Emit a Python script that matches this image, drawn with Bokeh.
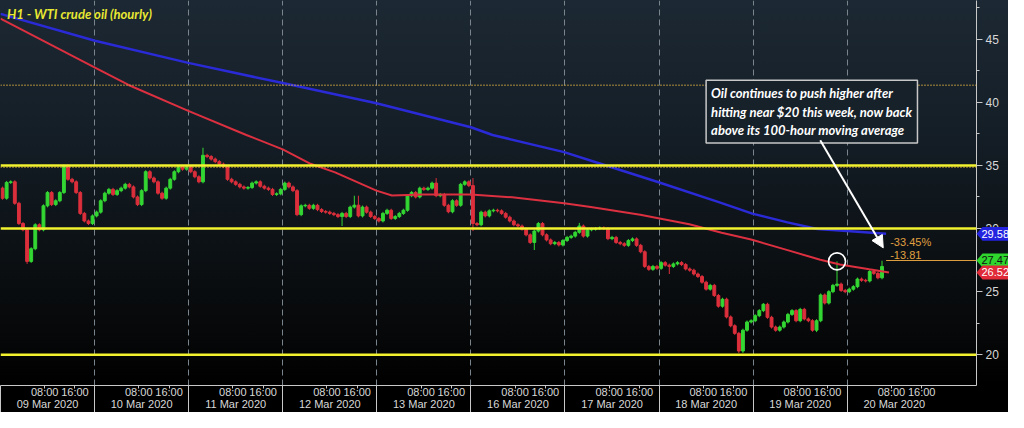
from bokeh.plotting import figure
from bokeh.models import (ColumnDataSource, Range1d, LinearAxis, FixedTicker, SingleIntervalTicker,
                          Span, Label, Arrow, NormalHead, InlineStyleSheet, CustomJSTickFormatter)
from bokeh.core.properties import value
from bokeh.embed import file_html
from bokeh.resources import INLINE

# ---------------- data ----------------
BARS_PER_DAY = 23
dates = ["09 Mar 2020", "10 Mar 2020", "11 Mar 2020", "12 Mar 2020", "13 Mar 2020",
         "16 Mar 2020", "17 Mar 2020", "18 Mar 2020", "19 Mar 2020", "20 Mar 2020"]
hour_labels = ["08:00", "16:00"]

first_open = 33.2
close_0309 = [32.4, 33.65, 33.7, 32.0, 30.4, 29.9, 27.4, 28.4, 30.3, 29.9, 31.8, 32.85, 31.9, 32.2,
              32.85, 34.95, 33.9, 33.7, 32.85, 31.2, 30.6, 30.4, 31.0]
close_0310 = [31.3, 32.2, 32.8, 33.1, 32.7, 33.0, 33.2, 33.5, 33.3, 32.5, 31.9, 33.0, 34.5, 34.0,
              33.7, 32.8, 32.4, 33.2, 33.9, 34.5, 34.9, 34.7, 34.9]
close_0311 = [34.5, 34.1, 33.7, 35.8, 35.7, 35.5, 35.3, 35.1, 34.9, 33.9, 33.7, 33.5, 33.3, 33.2,
              33.25, 33.6, 33.7, 33.35, 33.2, 33.1, 32.7, 32.75, 33.1]
close_0312 = [33.6, 33.3, 33.0, 31.1, 31.8, 31.84, 31.6, 31.84, 31.5, 31.35, 31.3, 31.2, 31.1, 30.95,
              31.2, 30.95, 31.7, 31.85, 31.0, 31.7, 31.3, 30.95, 30.8]
close_0313 = [30.6, 31.2, 31.45, 30.8, 30.95, 31.2, 31.45, 32.6, 32.85, 32.5, 33.2, 33.1, 33.2, 33.6,
              32.6, 32.7, 31.84, 31.33, 32.2, 31.84, 33.5, 33.7, 33.4]
close_0316 = [30.4, 30.3, 31.3, 31.0, 31.4, 31.45, 31.4, 31.2, 30.9, 30.6, 30.3, 30.2, 29.95, 29.5,
              28.9, 29.8, 30.4, 29.5, 29.1, 28.8, 28.9, 28.7, 29.05]
close_0317 = [29.3, 29.4, 29.7, 30.2, 29.4, 29.9, 29.95, 30.0, 30.05, 30.0, 29.2, 29.3, 28.9, 28.8,
              28.67, 29.05, 29.18, 28.67, 28.16, 27.0, 26.77, 27.0, 26.85]
close_0318 = [27.3, 27.1, 27.0, 27.2, 27.3, 27.15, 26.8, 26.7, 26.4, 26.2, 25.75, 25.2, 25.5, 24.7,
              23.85, 24.4, 23.0, 22.3, 21.7, 20.3, 21.95, 22.6, 22.7]
close_0319 = [23.1, 23.5, 24.0, 22.97, 22.2, 21.95, 22.2, 22.6, 23.2, 23.5, 22.7, 23.6, 22.84, 22.7,
              21.95, 22.7, 24.74, 24.1, 25.0, 25.5, 25.6, 25.1, 25.0]
close_0320 = [25.2, 25.4, 26.0, 25.9, 25.85, 26.6, 26.45, 26.1, 27.0]

high_spikes = {49: 36.4, 86: 32.6, 87: 32.6, 106: 34.0, 115: 34.0, 141: 30.45, 186: 24.1,
               204: 27.4, 215: 27.45}
low_spikes = {6: 27.2, 83: 30.2, 115: 29.8, 130: 28.3, 163: 26.4, 180: 20.15, 181: 20.15, 199: 21.8}

# moving averages (bar index, price)
ma100_x = [0, 23.1, 31.3, 45.9, 60.1, 69.0, 75.8, 81.8, 91.9, 95.7, 103.4, 115, 125.1, 137.8,
           144.3, 156.4, 168.4, 176.3, 183.5, 192.4, 200.4, 205.2, 212.4, 217.2]
ma100_y = [46.62, 42.74, 41.37, 39.32, 37.41, 36.27, 35.13, 34.45, 33.0, 32.62, 32.7, 32.7, 32.47,
           32.0, 31.71, 31.10, 30.34, 29.66, 29.13, 28.29, 27.53, 27.15, 26.77, 26.52]
ma200_x = [0, 23.1, 45.9, 69.0, 91.9, 115, 120.3, 137.8, 146.7, 160.7, 175.6, 183.8, 192.4,
           199.7, 206.9, 216.5]
ma200_y = [47.0, 44.87, 43.12, 41.52, 39.92, 38.02, 37.41, 36.05, 35.13, 33.69, 32.09, 31.18,
           30.49, 29.96, 29.81, 29.58]

key_levels = [35, 30, 20]
dotted_levels = [41.35, 34.86]
last_price = 27.47
ma100_last = 26.52
ma200_last = 29.58
tag_values = [ma200_last, last_price, ma100_last]
change_pct = "-33.45%"
change_abs = "-13.81"
highlight_bar = 204
note = "Oil continues to push higher after\nhitting near $20 this week, now back\nabove its 100-hour moving average"
title = "H1 - WTI crude oil (hourly)"

# ---------------- build ----------------
closes = (close_0309 + close_0310 + close_0311 + close_0312 + close_0313 + close_0316 +
          close_0317 + close_0318 + close_0319 + close_0320)
n = len(closes)
WICK = 0.12
xs = [i + 0.5 for i in range(n)]
opens = [first_open] + closes[:-1]
highs = [high_spikes.get(i, max(o, c) + WICK) for i, (o, c) in enumerate(zip(opens, closes))]
lows = [low_spikes.get(i, min(o, c) - WICK) for i, (o, c) in enumerate(zip(opens, closes))]
UP, DOWN = "#33d633", "#dc2f3c"
colors = [UP if c >= o else DOWN for o, c in zip(opens, closes)]
src = ColumnDataSource(dict(x=xs, open=opens, close=closes, high=highs, low=lows,
                            top=[max(o, c) for o, c in zip(opens, closes)],
                            bottom=[min(o, c) for o, c in zip(opens, closes)], color=colors))

X_END = 238.6
FRAME_W = 976
PX = FRAME_W / X_END  # pixels per bar
p = figure(width=1008, height=412, x_range=Range1d(0, X_END), y_range=Range1d(17.57, 48.06),
           y_axis_location="right", output_backend="svg", toolbar_location=None,
           min_border_left=0, min_border_top=0, min_border_bottom=0, min_border_right=1008 - FRAME_W)
p.background_fill_alpha = 0
p.border_fill_alpha = 0
p.outline_line_color = None
p.stylesheets = [InlineStyleSheet(css=":host { background: linear-gradient(to bottom, #1c2833 0%, "
                                      "#151f28 30%, #0c1115 60%, #060708 82%, #000000 93%); }")]

n_days = len(dates)
boundaries = [d * BARS_PER_DAY for d in range(n_days)]
p.xgrid.ticker = FixedTicker(ticks=boundaries)
p.xgrid.grid_line_color = "#7a848c"
p.xgrid.grid_line_dash = "6 4"
p.xgrid.grid_line_width = 1
p.ygrid.visible = False

AXIS_COL = "#c8c8c8"
LABEL_COL = "#d8d8d8"

# right price axis
ya = p.yaxis[0]
ya.ticker = SingleIntervalTicker(interval=5, num_minor_ticks=2)
ya.axis_line_color = AXIS_COL
ya.major_tick_line_color = AXIS_COL
ya.minor_tick_line_color = AXIS_COL
ya.major_tick_out = 6
ya.major_tick_in = 0
ya.minor_tick_out = 3
ya.minor_tick_in = 0
ya.major_label_text_color = LABEL_COL
ya.major_label_text_font = "Liberation Sans"
ya.major_label_text_font_size = "12px"
ya.major_label_standoff = 3

# hour axis (day separators drawn as long minor ticks through both label rows)
hour_offsets = [10.8, 18.2]
hour_ticks = [d * BARS_PER_DAY + off for d in range(n_days) for off in hour_offsets]
xa = p.xaxis[0]
xa.ticker = FixedTicker(ticks=hour_ticks, minor_ticks=boundaries)
xa.formatter = CustomJSTickFormatter(args=dict(labels=hour_labels, offs=hour_offsets, n=BARS_PER_DAY), code="""
const r = tick - Math.floor(tick / n) * n;
let k = 0;
for (let i = 1; i < offs.length; i++) { if (Math.abs(offs[i] - r) < Math.abs(offs[k] - r)) k = i; }
return labels[k];
""")
xa.axis_line_color = AXIS_COL
xa.major_tick_line_color = AXIS_COL
xa.minor_tick_line_color = AXIS_COL
xa.major_tick_out = 3
xa.major_tick_in = 0
xa.minor_tick_out = 30
xa.minor_tick_in = 0
xa.major_label_text_color = LABEL_COL
xa.major_label_text_font = "Liberation Sans"
xa.major_label_text_font_size = "11px"
xa.major_label_standoff = -30

# date axis
da = LinearAxis(ticker=FixedTicker(ticks=[d * BARS_PER_DAY + BARS_PER_DAY / 2 for d in range(n_days)],
                                   minor_ticks=[]),
                formatter=CustomJSTickFormatter(args=dict(dates=dates, n=BARS_PER_DAY),
                                                code="return dates[Math.floor(tick / n)];"))
da.axis_line_color = None
da.major_tick_line_color = None
da.minor_tick_line_color = None
da.major_tick_out = 0
da.major_tick_in = 0
da.major_label_standoff = -3
da.major_label_text_color = LABEL_COL
da.major_label_text_font = "Liberation Sans"
da.major_label_text_font_size = "11px"
p.add_layout(da, "below")

# candles
p.segment(x0="x", y0="low", x1="x", y1="high", color="color", line_width=1, source=src)
p.vbar(x="x", width=0.7, top="top", bottom="bottom", fill_color="color", line_color="color",
       line_width=1, source=src)

# moving averages
p.line(ma200_x, ma200_y, line_color="#2a2ad6", line_width=2.5)
p.line(ma100_x, ma100_y, line_color="#dc3040", line_width=2)

# horizontal levels
for lv in dotted_levels:
    p.add_layout(Span(location=lv, dimension="width", line_color="#e0b040", line_width=1.5,
                      line_dash="1 2"))
for lv in key_levels:
    p.add_layout(Span(location=lv, dimension="width", line_color="#f2f22e", line_width=2.5))

# last price line
last_x = xs[-1]
p.segment(x0=[last_x + 1], y0=[last_price], x1=[X_END], y1=[last_price], line_color="#e0a040",
          line_width=1)

# highlight circle
p.scatter(x=[xs[highlight_bar]], y=[highs[highlight_bar]], size=17, marker="circle",
          fill_alpha=0, line_color="white", line_width=1.6)

NOTE_FONT = "Lato"
# note box and arrow
p.add_layout(Label(x=172.5, y=41.75, text=note, anchor="top_left", text_color="white",
                   text_font=NOTE_FONT, text_font_style="bold italic",
                   text_font_size="13px", text_line_height=1.15,
                   background_fill_color="#17212a", background_fill_alpha=1,
                   border_line_color="#c8c8c8", border_line_width=1.5, padding=5))
p.add_layout(Arrow(end=NormalHead(size=12, fill_color="white", line_color="white"),
                   x_start=200.4, y_start=37.0, x_end=last_x + 0.3, y_end=last_price + 1.0,
                   line_color="white", line_width=2))

# title
p.add_layout(Label(x=1.6, y=47.0, text=title, anchor="center_left", text_color="#e8e832",
                   text_font=NOTE_FONT, text_font_style="bold italic", text_font_size="13px"))

# change labels
for txt, off in [(change_pct, 18), (change_abs, 5)]:
    p.add_layout(Label(x=last_x + 2, y=last_price, y_offset=off, text=txt, anchor="center_left",
                       text_color="#e0a040", text_font="Liberation Sans", text_font_size="11px"))

# price tags on the axis: glyphs on the overlay level so they may extend over the axis
TAG_H = 0.55
TIP = 6 / PX
TAG_R = X_END + 33 / PX
tag_src = ColumnDataSource(dict(
    y=tag_values, txt=[f"{v:.2f}" for v in tag_values],
    bg=["#2323e0", "#2ed62e", "#e02a38"], fg=["white", "#101010", "white"],
    px=[[X_END, X_END + TIP, TAG_R, TAG_R, X_END + TIP] for v in tag_values],
    py=[[v, v + TAG_H, v + TAG_H, v - TAG_H, v - TAG_H] for v in tag_values],
    tx=[X_END - 0.001] * 3))
p.patches(xs="px", ys="py", fill_color="bg", line_color=None, source=tag_src, level="overlay")
p.text(x="tx", y="y", text="txt", text_color="fg", x_offset=5, text_align="left",
       text_baseline="middle", text_font=value("Liberation Sans"), text_font_size="11px",
       source=tag_src, level="overlay")

open("out.html", "w").write(file_html(p, INLINE))
